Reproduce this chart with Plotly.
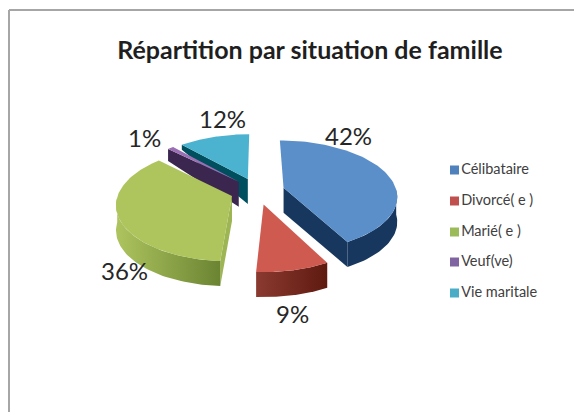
import numpy as np
import plotly.graph_objects as go

categories = ["Célibataire", "Divorcé( e )", "Marié( e )", "Veuf(ve)", "Vie maritale"]
values = [42, 9, 36, 1, 12]
labels = ["42%", "9%", "36%", "1%", "12%"]

top_colors = ["#5B8FC9", "#CF5A50", "#AEC45D", "#9A6FB4", "#4BB3D0"]
legend_colors = ["#4F81BD", "#C0504D", "#9BBB59", "#8064A2", "#4BACC6"]
cut_colors = ["#17375E", "#632523", "#9DB552", "#3B2650", "#004F5E"]
rim_left = ["#17375E", "#8B3A30", "#AEC45F", "#3B2650", "#004F5E"]
rim_right = ["#17375E", "#5F1A10", "#6B8432", "#3B2650", "#004F5E"]
# wall height at the outer corner of the visible cut face
corner_depth = [25, 25, 25, 12, 5]
label_pos = [(348, 135), (292, 313), (124, 270), (144, 137), (222, 118)]
legend_y = [170, 201, 232, 262, 293]

# pie geometry in pixels, the plot area spans the whole page
cx, cy = 257.5, 191
rx, ry = 113, 56
persp = 0.14
explode = 0.24
depth = 25


def project(X, Y):
    s = 1 + persp * Y
    return cx + rx * X * s, cy + ry * Y * s


def ground(theta, r=1.0):
    return r * np.sin(theta), -r * np.cos(theta)


fig = go.Figure()

total = sum(values)
edges = np.cumsum([0] + values) / total * 2 * np.pi
# back wedges first so that the front ones overlap them
order = [4, 3, 0, 2, 1]

for i in order:
    a0, a1 = edges[i], edges[i + 1]
    mid = (a0 + a1) / 2
    ox, oy = ground(mid, explode)
    th = np.linspace(a0, a1, 80)
    gx, gy = ground(th)
    X = np.concatenate([[ox], ox + gx, [ox]])
    Y = np.concatenate([[oy], oy + gy, [oy]])
    px, py = project(X, Y)

    # cut faces
    for ang, visible in ((a0, -np.sin(a0) > 0), (a1, np.sin(a1) > 0)):
        if not visible:
            continue
        ex, ey = ground(ang)
        fx, fy = project(np.array([ox, ox + ex]), np.array([oy, oy + ey]))
        fig.add_trace(go.Scatter(
            x=[fx[0], fx[1], fx[1], fx[0], fx[0]],
            y=[fy[0], fy[1], fy[1] + corner_depth[i], fy[0] + depth, fy[0]],
            mode="lines", line=dict(width=0), fill="toself",
            fillcolor=cut_colors[i], showlegend=False, hoverinfo="skip"))

    # outer rim, only the part facing the viewer
    keep = np.cos(th) < 0
    if keep.any():
        rx_, ry_ = project(ox + gx[keep], oy + gy[keep])
        fig.add_trace(go.Scatter(
            x=np.concatenate([rx_, rx_[::-1], rx_[:1]]),
            y=np.concatenate([ry_, ry_[::-1] + depth, ry_[:1]]),
            mode="lines", line=dict(width=0), fill="toself",
            fillgradient=dict(type="horizontal",
                              colorscale=[[0, rim_left[i]], [1, rim_right[i]]],
                              start=float(rx_.min()), stop=float(rx_.max())),
            showlegend=False, hoverinfo="skip"))

    # top surface
    fig.add_trace(go.Scatter(
        x=px, y=py, mode="lines", line=dict(width=0), fill="toself",
        fillcolor=top_colors[i], showlegend=False, hoverinfo="skip"))

# legend drawn as markers, the native one keeps too wide a gap to the text
fig.add_trace(go.Scatter(
    x=[454.5] * len(categories), y=legend_y, text=categories,
    mode="markers+text", textposition="middle right",
    marker=dict(symbol="square", size=9, color=legend_colors),
    textfont=dict(family="Lato", size=14.5, color="#404040"),
    showlegend=False, hoverinfo="skip"))

for lab, (lx, ly) in zip(labels, label_pos):
    fig.add_annotation(x=lx, y=ly, text=lab, showarrow=False,
                       font=dict(family="Lato", size=24, color="#262626"))

# chart frame, open at the right and bottom of the crop
fig.add_shape(type="line", x0=9, x1=9, y0=10, y1=412, line=dict(color="#A6A6A6", width=2))
fig.add_shape(type="line", x0=9, x1=574, y0=10, y1=10, line=dict(color="#A6A6A6", width=2))

fig.update_layout(
    width=574, height=412,
    margin=dict(l=0, r=0, t=0, b=0),
    paper_bgcolor="white", plot_bgcolor="white",
    title=dict(text="<b>Répartition par situation de famille</b>",
               x=0.54, xanchor="center", y=0.877, yanchor="middle",
               font=dict(family="Lato", size=25, color="#1F1F1F")),
    xaxis=dict(range=[0, 574], visible=False),
    yaxis=dict(range=[412, 0], visible=False),
    showlegend=False,
)

fig.write_html("out.html", config={"displayModeBar": False},
               post_script="document.body.style.margin='0';")
